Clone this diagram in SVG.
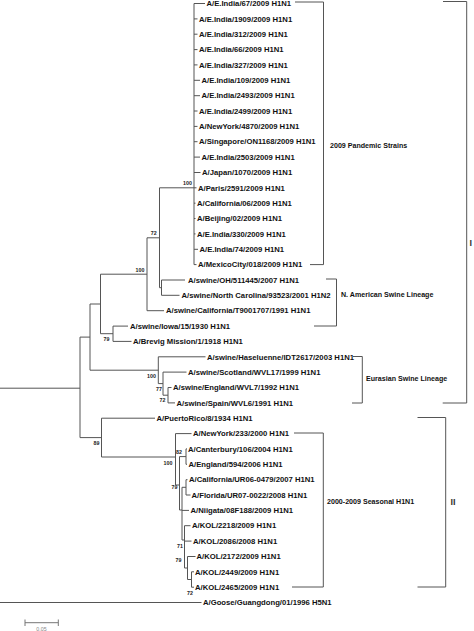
<svg xmlns="http://www.w3.org/2000/svg" width="474" height="631" viewBox="0 0 474 631">
<style>
.leaf{font-family:"Liberation Sans",Arial,sans-serif;font-weight:bold;font-size:7.7px;fill:#111}
.bs{font-family:"Liberation Sans",Arial,sans-serif;font-weight:bold;font-size:5.3px;fill:#222;text-anchor:middle}
.clade{font-family:"Liberation Sans",Arial,sans-serif;font-weight:bold;font-size:7.1px;fill:#111}
.grp{font-family:"Liberation Sans",Arial,sans-serif;font-weight:bold;font-size:9px;fill:#333}
.ln{stroke:#555;stroke-width:1;fill:none}
</style>
<rect width="474" height="631" fill="#fff"/>
<g id="connectors" class="ln">
<path d="M0 388.2H80M80 337.1V437.6"/>
<path d="M80 337.1H90M90 304V370.2"/>
<path d="M90 304H100.5M100.5 274.2V333.7"/>
<path d="M100.5 274.2H147M147 237.8V310.7"/>
<path d="M147 237.8H159.5M159.5 187.8V287.7"/>
<path d="M159.5 187.8H194M194 3.5V264.6"/>
<path d="M194 3.5H205M194 18.9H197.5M194 34.2H197.5M194 49.6H197.5M194 64.9H197.5M194 80.3H200M194 95.7H200M194 111H197.5M194 126.4H197.5M194 141.7H197.5M194 157.1H200M194 172.5H200.5M194 187.8H196.5M194 203.2H195.5M194 218.5H195.5M194 233.9H195.5M194 249.3H198M194 264.6H196.5"/>
<path d="M159.5 287.7H161.5M161.5 280V295.3M161.5 280H185M161.5 295.3H179.5"/>
<path d="M147 310.7H164"/>
<path d="M100.5 333.7H113M113 326.1V341.4M113 326.1H128M113 341.4H131.5"/>
<path d="M90 370.2H158.3M158.3 356.8V383.6M158.3 356.8H205.5"/>
<path d="M158.3 383.6H163M163 372.1V395.2M163 372.1H186.5"/>
<path d="M163 395.2H168M168 387.5V402.9M168 387.5H171.5M168 402.9H175"/>
<path d="M80 437.6H101.5M101.5 418.2V457M101.5 418.2H155"/>
<path d="M101.5 457H175.5M175.5 433.6V485M175.5 433.6H191.5"/>
<path d="M175.5 485H179.5M179.5 456.6V510"/>
<path d="M179.5 456.6H186M186 448.9V464.3M186 448.9H187M186 464.3H187"/>
<path d="M179.5 510H182M182 487.3V540"/>
<path d="M182 487.3H186M186 479.7V495M186 479.7H187.5M186 495H190.5"/>
<path d="M182 510.4H189"/>
<path d="M182 540H184.5M184.5 525.7V568M184.5 525.7H190.5M184.5 541.1H191.5"/>
<path d="M184.5 568H187.5M187.5 556.5V579.5M187.5 556.5H195.5"/>
<path d="M187.5 579.5H191.5M191.5 571.8V587.2M191.5 571.8H194M191.5 587.2H194"/>
<path d="M0 602.5H201.5"/>
<path d="M295 2H323.5V264.6H310"/>
<path d="M326 279H336.5V326H314"/>
<path d="M353 356.5H362.3V403H352"/>
<path d="M294 433H323.3V587H292"/>
<path d="M443 1.5H466.7V403H442.7"/>
<path d="M417.5 417.5H445.7V587H417.5"/>
<path d="M25 622.7H58.3M25 619.5V626M58.3 619.5V626" stroke="#777"/>
</g>
<g id="leaves" class="leaf">
<g id="n00"><text x="206.5" y="6.2">A/E.India/67/2009 H1N1</text></g>
<g id="n01"><text x="199" y="21.6">A/E.India/1909/2009 H1N1</text></g>
<g id="n02"><text x="199" y="36.9">A/E.India/312/2009 H1N1</text></g>
<g id="n03"><text x="199" y="52.3">A/E.India/66/2009 H1N1</text></g>
<g id="n04"><text x="199" y="67.6">A/E.India/327/2009 H1N1</text></g>
<g id="n05"><text x="201.5" y="83">A/E.India/109/2009 H1N1</text></g>
<g id="n06"><text x="201.5" y="98.4">A/E.India/2493/2009 H1N1</text></g>
<g id="n07"><text x="199" y="113.7">A/E.India/2499/2009 H1N1</text></g>
<g id="n08"><text x="199" y="129.1">A/NewYork/4870/2009 H1N1</text></g>
<g id="n09"><text x="199" y="144.4">A/Singapore/ON1168/2009 H1N1</text></g>
<g id="n10"><text x="201.5" y="159.8">A/E.India/2503/2009 H1N1</text></g>
<g id="n11"><text x="202" y="175.2">A/Japan/1070/2009 H1N1</text></g>
<g id="n12"><text x="198" y="190.5">A/Paris/2591/2009 H1N1</text></g>
<g id="n13"><text x="197" y="205.9">A/California/06/2009 H1N1</text></g>
<g id="n14"><text x="197" y="221.2">A/Beijing/02/2009 H1N1</text></g>
<g id="n15"><text x="197" y="236.6">A/E.India/330/2009 H1N1</text></g>
<g id="n16"><text x="199.5" y="252">A/E.India/74/2009 H1N1</text></g>
<g id="n17"><text x="198" y="267.3">A/MexicoCity/018/2009 H1N1</text></g>
<g id="n18"><text x="188" y="282.7">A/swine/OH/511445/2007 H1N1</text></g>
<g id="n19"><text x="181.5" y="298">A/swine/North Carolina/93523/2001 H1N2</text></g>
<g id="n20"><text x="166" y="313.4">A/swine/California/T9001707/1991 H1N1</text></g>
<g id="n21"><text x="130" y="328.8">A/swine/Iowa/15/1930 H1N1</text></g>
<g id="n22"><text x="133" y="344.1">A/Brevig Mission/1/1918 H1N1</text></g>
<g id="n23"><text x="207" y="359.5">A/swine/Haseluenne/IDT2617/2003 H1N1</text></g>
<g id="n24"><text x="188" y="374.8">A/swine/Scotland/WVL17/1999 H1N1</text></g>
<g id="n25"><text x="173" y="390.2">A/swine/England/WVL7/1992 H1N1</text></g>
<g id="n26"><text x="176.5" y="405.6">A/swine/Spain/WVL6/1991 H1N1</text></g>
<g id="n27"><text x="156.5" y="420.9">A/PuertoRico/8/1934 H1N1</text></g>
<g id="n28"><text x="193" y="436.3">A/NewYork/233/2000 H1N1</text></g>
<g id="n29"><text x="188" y="451.6">A/Canterbury/106/2004 H1N1</text></g>
<g id="n30"><text x="188.5" y="467">A/England/594/2006 H1N1</text></g>
<g id="n31"><text x="189" y="482.4">A/California/UR06-0479/2007 H1N1</text></g>
<g id="n32"><text x="191.5" y="497.7">A/Florida/UR07-0022/2008 H1N1</text></g>
<g id="n33"><text x="190.5" y="513.1">A/Niigata/08F188/2009 H1N1</text></g>
<g id="n34"><text x="192" y="528.4">A/KOL/2218/2009 H1N1</text></g>
<g id="n35"><text x="193" y="543.8">A/KOL/2086/2008 H1N1</text></g>
<g id="n36"><text x="196.5" y="559.2">A/KOL/2172/2009 H1N1</text></g>
<g id="n37"><text x="195" y="574.5">A/KOL/2449/2009 H1N1</text></g>
<g id="n38"><text x="195" y="589.9">A/KOL/2465/2009 H1N1</text></g>
<g id="n39"><text x="203" y="605.2">A/Goose/Guangdong/01/1996 H5N1</text></g>
</g>
<g id="bootstrap" class="bs">
<text x="187.5" y="185">100</text>
<text x="153.7" y="235">72</text>
<text x="140" y="271.5">100</text>
<text x="106.5" y="341">79</text>
<text x="151.5" y="377.5">100</text>
<text x="159" y="391">77</text>
<text x="162.5" y="402">72</text>
<text x="96.5" y="445">89</text>
<text x="168" y="465">100</text>
<text x="179" y="454">82</text>
<text x="174.5" y="489">79</text>
<text x="180" y="548">71</text>
<text x="178.5" y="561.5">79</text>
<text x="190" y="595">72</text>
</g>
<g id="clade-pandemic" class="clade"><text x="330" y="147.5">2009 Pandemic Strains</text></g>
<g id="clade-naswine" class="clade"><text x="341" y="297">N. American Swine Lineage</text></g>
<g id="clade-euswine" class="clade"><text x="366" y="380.5">Eurasian Swine Lineage</text></g>
<g id="clade-seasonal" class="clade"><text x="327" y="504">2000-2009 Seasonal H1N1</text></g>
<g id="group-I" class="grp"><text x="469.5" y="246">I</text></g>
<g id="group-II" class="grp"><text x="450.5" y="505">II</text></g>
<g id="scale"><text x="41.5" y="630.5" font-family="Liberation Sans, Arial, sans-serif" font-size="5.3" fill="#888" text-anchor="middle">0.05</text></g>
</svg>
